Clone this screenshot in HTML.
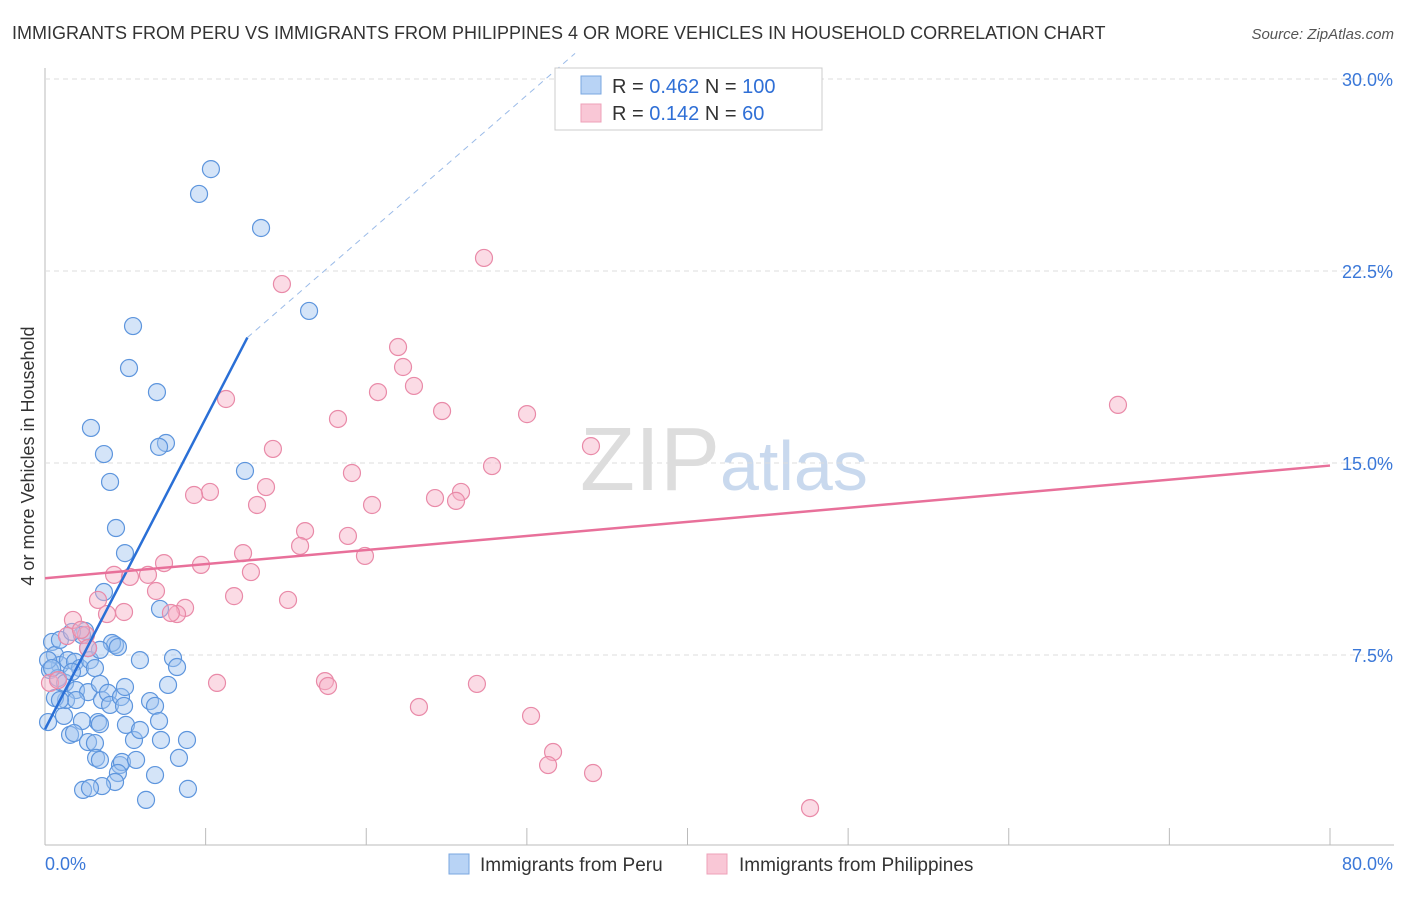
<!DOCTYPE html>
<html><head><meta charset="utf-8"><style>
body{margin:0;background:#fff;font-family:"Liberation Sans",sans-serif}
svg text{font-family:"Liberation Sans",sans-serif}
</style></head><body>
<svg id="c" width="1406" height="892" xmlns="http://www.w3.org/2000/svg">
<text x="12" y="39" font-size="18" fill="#333">IMMIGRANTS FROM PERU VS IMMIGRANTS FROM PHILIPPINES 4 OR MORE VEHICLES IN HOUSEHOLD CORRELATION CHART</text>
<text x="1394" y="39" font-size="15" fill="#555" font-style="italic" text-anchor="end">Source: ZipAtlas.com</text>
<text x="34" y="456" font-size="18" fill="#333" text-anchor="middle" transform="rotate(-90 34 456)">4 or more Vehicles in Household</text>
<text x="720" y="490" font-size="90" fill="#ddd" text-anchor="end" font-family="Liberation Serif">ZIP</text>
<text x="720" y="490" font-size="70" fill="#c9d9ee">atlas</text>
<g id="grid"></g><g id="pts"></g><g id="lines"></g>
<g>
<rect x="555" y="68" width="267" height="62" fill="#fff" stroke="#ccc"/>
<rect x="581" y="76" width="20" height="18" fill="#b8d3f5" stroke="#7aa7e0"/>
<rect x="581" y="104" width="20" height="18" fill="#f9c7d6" stroke="#eea0b8"/>
<text x="612" y="93" font-size="20" fill="#333">R = <tspan fill="#2f6fd6">0.462</tspan>   N = <tspan fill="#2f6fd6">100</tspan></text>
<text x="612" y="120" font-size="20" fill="#333">R =  <tspan fill="#2f6fd6">0.142</tspan>   N =   <tspan fill="#2f6fd6">60</tspan></text>
</g>
<g>
<rect x="449" y="854" width="20" height="20" fill="#b8d3f5" stroke="#7aa7e0"/>
<text x="480" y="871" font-size="19" fill="#333">Immigrants from Peru</text>
<rect x="707" y="854" width="20" height="20" fill="#f9c7d6" stroke="#eea0b8"/>
<text x="739" y="871" font-size="19" fill="#333">Immigrants from Philippines</text>
</g>
</svg>
<script>
const xTicks=[0,10,20,30,40,50,60,70,80];
const yTicks=[7.5,15,22.5,30];
const yTickLabels=["7.5%","15.0%","22.5%","30.0%"];
const peruPx=[[211,169],[199,194],[261,228],[309,311],[133,326],[129,368],[157,392],[91,428],[166,443],[159,447],[104,454],[245,471],[110,482],[116,528],[125,553],[104,592],[160,609],[85,631],[52,642],[115,645],[112,643],[118,647],[173,658],[177,667],[140,660],[55,655],[60,665],[68,660],[75,662],[80,668],[50,670],[58,678],[65,683],[90,660],[95,668],[76,690],[88,692],[100,684],[102,700],[108,693],[110,705],[121,697],[124,706],[125,687],[168,685],[150,701],[155,706],[159,721],[126,725],[98,722],[100,724],[82,721],[64,716],[48,722],[70,735],[74,733],[88,742],[95,743],[96,758],[100,760],[120,765],[122,762],[118,773],[115,782],[102,786],[83,790],[90,788],[146,800],[188,789],[187,740],[161,740],[136,760],[155,775],[179,758],[134,740],[140,730],[66,700],[76,700],[55,698],[60,700],[72,672],[48,660],[52,668],[100,650],[88,648],[60,640],[82,635],[72,632]];
const philPx=[[484,258],[282,284],[398,347],[403,367],[378,392],[414,386],[226,399],[442,411],[527,414],[1118,405],[338,419],[591,446],[273,449],[492,466],[352,473],[266,487],[210,492],[194,495],[435,498],[461,492],[456,501],[372,505],[257,505],[305,531],[300,546],[348,536],[365,556],[243,553],[164,563],[251,572],[114,575],[130,577],[148,575],[201,565],[156,591],[234,596],[288,600],[98,600],[124,612],[107,614],[185,608],[177,614],[171,613],[73,620],[86,635],[67,636],[81,630],[88,648],[217,683],[325,681],[328,686],[477,684],[419,707],[531,716],[553,752],[548,765],[593,773],[810,808],[50,683],[58,680]];
// data values (x %, y %)
const peruX=peruPx.map(p=>+((p[0]-45)*80/1285).toFixed(2));
const peruY=peruPx.map(p=>+((847-p[1])/25.6).toFixed(2));
const philX=philPx.map(p=>+((p[0]-45)*80/1285).toFixed(2));
const philY=philPx.map(p=>+((847-p[1])/25.6).toFixed(2));
const peruTrend=[[0,4.6],[12.6,19.9],[33,31]];
const philTrend=[[0,10.5],[80,14.9]];
const X=v=>45+v*1285/80, Y=v=>847-v*25.6;
const NS="http://www.w3.org/2000/svg";
function mk(t,a,p){const e=document.createElementNS(NS,t);for(const k in a)e.setAttribute(k,a[k]);p.appendChild(e);return e;}
const grid=document.getElementById('grid');
let ax=mk('line',{x1:45,y1:68,x2:45,y2:845,stroke:'#bbb'},grid);


let bx=mk('line',{x1:45,y1:845,x2:1394,y2:845,stroke:'#bbb'},grid);


yTicks.forEach((v,i)=>{
 const g=mk('line',{x1:45,y1:Y(v),x2:1394,y2:Y(v),stroke:'#ddd','stroke-dasharray':'5,4'},grid);
 
 
 const t=mk('text',{x:1393,y:Y(v)+7,'font-size':18,fill:'#3b78d8','text-anchor':'end'},grid);t.textContent=yTickLabels[i];
 
 
});
xTicks.forEach(v=>{const l=mk('line',{x1:X(v),y1:828,x2:X(v),y2:845,stroke:'#bbb'},grid);
 
 });
let t0=mk('text',{x:45,y:870,'font-size':18,fill:'#3b78d8'},grid);t0.textContent='0.0%';


let t1=mk('text',{x:1393,y:870,'font-size':18,fill:'#3b78d8','text-anchor':'end'},grid);t1.textContent='80.0%';


const pts=document.getElementById('pts');
peruX.forEach((x,i)=>{const c=mk('circle',{cx:X(x),cy:Y(peruY[i]),r:8.5,fill:'rgba(160,196,240,0.45)',stroke:'#5d95dd','stroke-width':1.2},pts);
 
 });
philX.forEach((x,i)=>{const c=mk('circle',{cx:X(x),cy:Y(philY[i]),r:8.5,fill:'rgba(246,176,198,0.45)',stroke:'#e98aa8','stroke-width':1.2},pts);
 
 });
const ln=document.getElementById('lines');
let a=mk('line',{x1:X(peruTrend[0][0]),y1:Y(peruTrend[0][1]),x2:X(peruTrend[1][0]),y2:Y(peruTrend[1][1]),stroke:'#2a6fd6','stroke-width':2.5},ln);


let b=mk('line',{x1:X(peruTrend[1][0]),y1:Y(peruTrend[1][1]),x2:X(peruTrend[2][0]),y2:Y(peruTrend[2][1]),stroke:'#9bbbe8','stroke-width':1,'stroke-dasharray':'6,5'},ln);


let p=mk('line',{x1:X(philTrend[0][0]),y1:Y(philTrend[0][1]),x2:X(philTrend[1][0]),y2:Y(philTrend[1][1]),stroke:'#e8709a','stroke-width':2.5},ln);


</script>
</body></html>
